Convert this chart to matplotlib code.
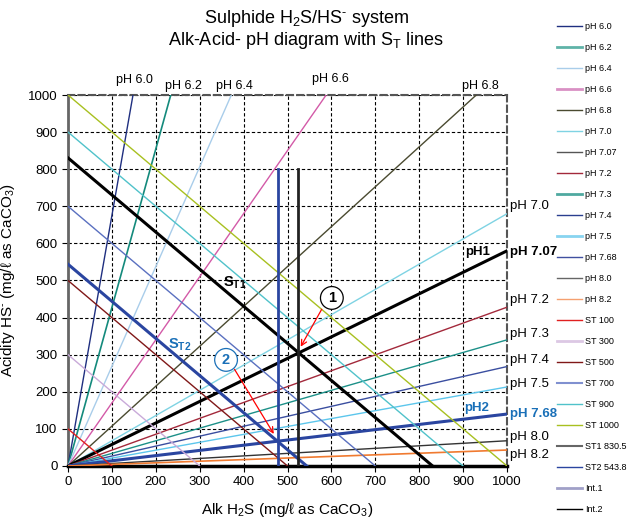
import matplotlib
matplotlib.use('Agg')
import matplotlib.pyplot as plt
from matplotlib.lines import Line2D

plt.rcParams['font.family'] = ['Liberation Sans', 'DejaVu Sans']
plt.rcParams['mathtext.fontset'] = 'custom'
plt.rcParams['mathtext.rm'] = 'Liberation Sans'
plt.rcParams['mathtext.it'] = 'Liberation Sans:italic'
plt.rcParams['mathtext.bf'] = 'Liberation Sans:bold'

# pH lines run from the origin to these end points
ph_names = ['pH 6.0', 'pH 6.2', 'pH 6.4', 'pH 6.6', 'pH 6.8', 'pH 7.0', 'pH 7.07',
            'pH 7.2', 'pH 7.3', 'pH 7.4', 'pH 7.5', 'pH 7.68', 'pH 8.0', 'pH 8.2']
ph_end_x = [148, 234, 372, 588, 930, 1000, 1000, 1000, 1000, 1000, 1000, 1000, 1000, 1000]
ph_end_y = [1000, 1000, 1000, 1000, 1000, 680, 580, 428, 340, 268, 213, 140, 68, 43]

# total sulphide lines (Alk + Acid = ST)
st_names = ['ST 100', 'ST 300', 'ST 500', 'ST 700', 'ST 900', 'ST 1000', 'ST1 830.5', 'ST2 543.8']
st_values = [100, 300, 500, 700, 900, 1000, 830.5, 543.8]

# vertical intercept lines
int_names = ['Int.1', 'Int.2']
int_x = [525, 478]
int_top = [800, 800]

ph_colors = ['#1f2f80', '#148a7c', '#a9cdea', '#d35aa8', '#4a4a30', '#7fd3e3', '#000000',
             '#a3293b', '#1c9088', '#3a4ea0', '#5cc6ec', '#2a45a0', '#333333', '#f07a30']
ph_widths = [1, 1.2, 1, 1, 1, 1, 2.2, 1, 1, 1, 1, 2.2, 1, 1.2]
st_colors = ['#e02020', '#c9aad9', '#801818', '#5a70c0', '#50c2ca', '#a8c020', '#000000', '#2a45a0']
st_widths = [1, 1, 1, 1, 1, 1, 2.2, 2.2]
int_colors = ['#222222', '#2a45a0']
int_widths = [2, 2]

leg_colors = ['#1f2f80', '#5fb3a8', '#a9cdea', '#d990c4', '#4a4a30', '#7fd3e3', '#555555',
              '#a3293b', '#4fa9a0', '#2a3f8f', '#88d4f0', '#4050a0', '#666666', '#f5a070',
              '#e02020', '#dcc8e4', '#801818', '#8090d0', '#50c2ca', '#a8c020', '#666666',
              '#2a45a0', '#a0a0c8', '#000000']
leg_widths = [1, 2, 1, 2, 1, 1, 1, 1, 2, 1, 2, 1, 1, 1, 1, 2, 1, 1.5, 1, 1, 1.5, 1, 2, 1]

fig = plt.figure(figsize=(6.27, 5.22), dpi=100)
ax = fig.add_axes([0.1085, 0.1073, 0.7001, 0.7107])

for ex, ey, c, w in zip(ph_end_x, ph_end_y, ph_colors, ph_widths):
    ax.plot([0, ex], [0, ey], color=c, lw=w, zorder=3)
for st, c, w in zip(st_values, st_colors, st_widths):
    ax.plot([0, st], [st, 0], color=c, lw=w, zorder=3)
for x, top, c, w in zip(int_x, int_top, int_colors, int_widths):
    ax.plot([x, x], [0, top], color=c, lw=w, zorder=3)

ax.set_xlim(0, 1000)
ax.set_ylim(0, 1000)
ax.set_xticks(range(0, 1001, 100))
ax.set_yticks(range(0, 1001, 100))
ax.tick_params(labelsize=9.5, length=4, direction='out')
ax.grid(True, color='black', linestyle=(0, (3, 2)), lw=0.8)
ax.spines['left'].set_color('#666666')
ax.spines['left'].set_linewidth(2)
ax.spines['bottom'].set_color('black')
ax.spines['bottom'].set_linewidth(2.5)
for s in ['top', 'right']:
    ax.spines[s].set_color('#555555')
    ax.spines[s].set_linestyle((0, (3, 2)))
    ax.spines[s].set_linewidth(1.5)

ax.set_xlabel(r'Alk H$_2$S (mg/ℓ as CaCO$_3$)', fontsize=11, labelpad=9)
ax.set_ylabel(r'Acidity HS$^{\text{-}}$ (mg/ℓ as CaCO$_3$)', fontsize=11, labelpad=8)

fig.text(0.49, 0.965, r'Sulphide H$_2$S/HS$^{\text{-}}$ system', ha='center', va='center', fontsize=13)
fig.text(0.488, 0.922, r'Alk-Acid- pH diagram with S$_\mathrm{T}$ lines', ha='center', va='center', fontsize=13)

# pH labels along the top
top_lbl = [('pH 6.0', 151, 1040), ('pH 6.2', 262, 1024), ('pH 6.4', 380, 1024),
           ('pH 6.6', 597, 1043), ('pH 6.8', 940, 1024)]
for t, x, y in top_lbl:
    ax.text(x, y, t, ha='center', va='center', fontsize=9, clip_on=False)

# pH labels on the right
right_lbl = [('pH 7.0', 700), ('pH 7.2', 447), ('pH 7.3', 357), ('pH 7.4', 286),
             ('pH 7.5', 221), ('pH 8.0', 78), ('pH 8.2', 30)]
for t, y in right_lbl:
    ax.text(1007, y, t, ha='left', va='center', fontsize=9.5, clip_on=False)
ax.text(1007, 577, 'pH 7.07', ha='left', va='center', fontsize=9.5, fontweight='bold', clip_on=False)
ax.text(1007, 140, 'pH 7.68', ha='left', va='center', fontsize=9.5, fontweight='bold',
        color='#1a70b8', clip_on=False)

ax.text(904, 578, 'pH1', ha='left', va='center', fontsize=9.5, fontweight='bold', zorder=5)
ax.text(902, 156, 'pH2', ha='left', va='center', fontsize=9.5, fontweight='bold', color='#1a70b8', zorder=5)
ax.text(353, 493, r'S$_{\mathbf{T1}}$', ha='left', va='center', fontsize=10.5, fontweight='bold', zorder=5)
ax.text(228, 326, r'S$_{\mathbf{T2}}$', ha='left', va='center', fontsize=10.5, fontweight='bold',
        color='#1a70b8', zorder=5)

# numbered markers with red arrows
ax.annotate('', xy=(527, 315), xytext=(581, 429),
            arrowprops=dict(arrowstyle='->', color='red', lw=0.9), zorder=6)
ax.annotate('', xy=(472, 80), xytext=(376, 267),
            arrowprops=dict(arrowstyle='->', color='red', lw=0.9), zorder=6)
ax.text(601, 453, '1', ha='center', va='center', fontsize=10.5, fontweight='bold', zorder=7,
        bbox=dict(boxstyle='circle,pad=0.3', fc='white', ec='black', lw=0.9))
ax.text(360, 286, '2', ha='center', va='center', fontsize=10.5, fontweight='bold', color='#1a70b8',
        zorder=7, bbox=dict(boxstyle='circle,pad=0.3', fc='white', ec='#1a70b8', lw=0.9))

handles = [Line2D([], [], color=c, lw=w) for c, w in zip(leg_colors, leg_widths)]
fig.legend(handles, ph_names + st_names + int_names, loc='upper left',
           bbox_to_anchor=(0.882, 0.965), frameon=False, fontsize=6.5,
           handlelength=2.8, handletextpad=0.35, labelspacing=1.33, borderaxespad=0)

fig.savefig('out.png', dpi=100)
